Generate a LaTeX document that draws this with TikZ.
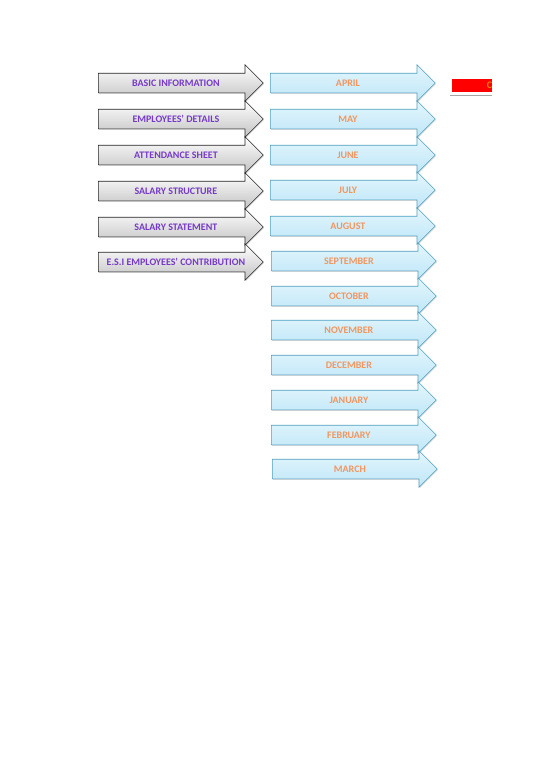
\documentclass[tikz,border=0pt]{standalone}
\usepackage{fontspec}
\setmainfont{Carlito}
\usepackage{xcolor}
\usepackage{tikz}
\usetikzlibrary{
    shapes,
    positioning,
    shadows
}
\definecolor{sheetpurple}{RGB}{118,58,200}
\definecolor{monthorange}{RGB}{242,150,95}
\definecolor{monthline}{RGB}{80,160,190}
\definecolor{monthtop}{RGB}{228,246,253}
\definecolor{monthbottom}{RGB}{190,230,247}
\tikzset{sheet/.style={
    single arrow,
    single arrow head extend=8.5pt,
    minimum height=165pt,
    minimum width=36pt,
    inner xsep=0pt,
    inner ysep=6.3pt,
    text height=6.4pt,
    text depth=0pt,
    anchor=tail,
    draw=black!85,
    line width=0.6pt,
    top color=white,
    bottom color=black!24,
    drop shadow={shadow xshift=0.6pt,shadow yshift=-1pt,opacity=0.3},
    text=sheetpurple,
    font=\fontsize{10}{12}\selectfont\bfseries,
}}
\tikzset{month/.style={
    sheet,
    draw=monthline,
    top color=monthtop,
    bottom color=monthbottom,
    text=monthorange,
}}
\tikzset{redcell/.style={
    fill=red,
    minimum width=40pt,
    minimum height=13pt,
    inner sep=0pt,
}}
\newcommand{\tag}[1]{\makebox[0pt]{#1}}

\begin{document}
\begin{tikzpicture}[x=1pt,y=1pt]
    \fill[white] (0,0) rectangle (550,-777);
    \useasboundingbox (0,0) rectangle (550,-777);

    % sheets on the left
    \node[sheet] (basic) at (98,-83) {\tag{BASIC INFORMATION}};
    \node[sheet] (details) at ([yshift=-36pt]basic.tail) {\tag{EMPLOYEES' DETAILS}};
    \node[sheet] (attendance) at ([yshift=-36pt]details.tail) {\tag{ATTENDANCE SHEET}};
    \node[sheet] (structure) at ([yshift=-36pt]attendance.tail) {\tag{SALARY STRUCTURE}};
    \node[sheet] (statement) at ([yshift=-36pt]structure.tail) {\tag{SALARY STATEMENT}};
    \node[sheet] (esi) at ([yshift=-35pt]statement.tail) {\tag{E.S.I EMPLOYEES' CONTRIBUTION}};

    % months
    \node[month] (apr) at (270,-83) {\tag{APRIL}};
    \node[month] (may) at ([yshift=-36pt]apr.tail) {\tag{MAY}};
    \node[month] (jun) at ([yshift=-36pt]may.tail) {\tag{JUNE}};
    \node[month] (jul) at ([yshift=-35pt]jun.tail) {\tag{JULY}};
    \node[month] (aug) at ([yshift=-36pt]jul.tail) {\tag{AUGUST}};
    \node[month] (sep) at ([xshift=1pt,yshift=-35pt]aug.tail) {\tag{SEPTEMBER}};
    \node[month] (oct) at ([yshift=-35pt]sep.tail) {\tag{OCTOBER}};
    \node[month] (nov) at ([yshift=-34pt]oct.tail) {\tag{NOVEMBER}};
    \node[month] (dec) at ([yshift=-35pt]nov.tail) {\tag{DECEMBER}};
    \node[month] (jan) at ([yshift=-35pt]dec.tail) {\tag{JANUARY}};
    \node[month] (feb) at ([yshift=-35pt]jan.tail) {\tag{FEBRUARY}};
    \node[month] (mar) at ([xshift=1pt,yshift=-34pt]feb.tail) {\tag{MARCH}};

    % red cell, cut at the print edge
    \node[redcell] (cell) at (472,-85) {};
    \draw[black!35, line width=0.8pt] ([xshift=-2pt,yshift=-4pt]cell.south west) -- ([yshift=-4pt]cell.south east);
    \begin{scope}
        \clip (cell.south west) rectangle (cell.north east);
        \node[text=orange, font=\fontsize{10}{12}\selectfont\bfseries, anchor=west, inner sep=0pt] (celltext) at ([xshift=-5.5pt]cell.east) {C};
    \end{scope}
\end{tikzpicture}
\end{document}
